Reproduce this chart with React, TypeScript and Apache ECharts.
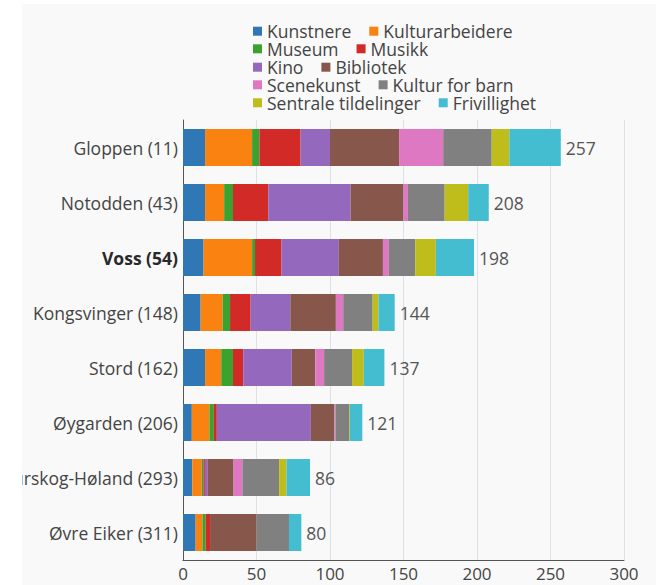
import React, { useEffect, useRef } from "react";
import * as echarts from "echarts";

const categories = [
  "Gloppen (11)",
  "Notodden (43)",
  "Voss (54)",
  "Kongsvinger (148)",
  "Stord (162)",
  "Øygarden (206)",
  "Aurskog-Høland (293)",
  "Øvre Eiker (311)",
];

const seriesNames = [
  "Kunstnere",
  "Kulturarbeidere",
  "Museum",
  "Musikk",
  "Kino",
  "Bibliotek",
  "Scenekunst",
  "Kultur for barn",
  "Sentrale tildelinger",
  "Frivillighet",
];

const kunstnere = [15, 15, 14, 12, 15, 6, 6.3, 8.6];
const kulturarbeidere = [32, 13, 33, 15, 11, 12, 6.4, 4.6];
const museum = [5, 6, 2, 5, 8, 3, 1.2, 2.2];
const musikk = [28, 24, 18, 14, 7, 2, 1, 3];
const kino = [20, 56, 39, 27, 33, 64, 2, 0];
const bibliotek = [47, 36, 30, 31, 16, 16, 17.5, 31.7];
const scenekunst = [30, 3, 4, 5, 6, 0.7, 6, 0];
const kulturForBarn = [33, 25, 18, 20, 19, 9.3, 25, 22];
const sentraleTildelinger = [12, 16, 14, 4, 8, 0.5, 5, 0];
const frivillighet = [35, 14, 26, 11, 14, 8.5, 16, 8.4];

const totals = [257, 208, 198, 144, 137, 121, 86, 80];

const colors = [
  "#2f78b5",
  "#f98211",
  "#3ca22f",
  "#d12a27",
  "#9468bd",
  "#87574b",
  "#de78c2",
  "#808080",
  "#bebd1c",
  "#45bdd1",
];

const FONT = "'Open Sans', 'Noto Sans', sans-serif";

export default function App() {
  const ref = useRef<HTMLDivElement>(null);

  useEffect(() => {
    if (!ref.current) return;
    const chart = echarts.init(ref.current, undefined, { renderer: "svg" });
    const values = [
      kunstnere,
      kulturarbeidere,
      museum,
      musikk,
      kino,
      bibliotek,
      scenekunst,
      kulturForBarn,
      sentraleTildelinger,
      frivillighet,
    ];
    const legendRows = [26.7, 44.3, 62.7, 80.3, 98.3];
    const legends = legendRows.map((cy, i) => ({
      data: [seriesNames[i * 2], seriesNames[i * 2 + 1]],
      left: 231,
      top: cy - 8.5,
      orient: "horizontal",
      padding: 0,
      itemGap: 18,
      itemWidth: 9,
      itemHeight: 9,
      icon: "rect",
      textStyle: { fontFamily: FONT, fontSize: 17.5, lineHeight: 17, color: "#444" },
    }));

    const series = values.map((vals, i) => ({
      name: seriesNames[i],
      type: "bar",
      stack: "total",
      data: vals,
      barWidth: 37,
      itemStyle: { color: colors[i] },
      label:
        i === values.length - 1
          ? {
              show: true,
              position: "right",
              distance: 5,
              formatter: (p: any) => String(totals[p.dataIndex]),
              fontFamily: FONT,
              fontSize: 17.5,
              color: "#555",
            }
          : { show: false },
      emphasis: { disabled: true },
    }));

    chart.setOption({
      animation: false,
      color: colors,
      legend: legends,
      grid: {
        left: 161,
        right: 32,
        top: 116,
        bottom: 25,
        containLabel: false,
        outerBoundsMode: "none",
      },
      xAxis: {
        type: "value",
        min: 0,
        max: 300,
        interval: 50,
        axisLine: { show: true, lineStyle: { color: "#555", width: 1 } },
        axisTick: { show: false },
        splitLine: { show: true, lineStyle: { color: "#dde2e8", width: 1 } },
        axisLabel: { fontFamily: FONT, fontSize: 17, color: "#444", margin: 5 },
      },
      yAxis: {
        type: "category",
        data: categories,
        inverse: true,
        axisLine: { show: true, lineStyle: { color: "#555", width: 1 } },
        axisTick: { show: false },
        axisLabel: {
          margin: 5,
          fontFamily: FONT,
          fontSize: 17.5,
          color: "#444",
          formatter: (v: string) => (v.startsWith("Voss") ? `{b|${v}}` : v),
          rich: {
            b: { fontFamily: FONT, fontSize: 17.5, fontWeight: "bold", color: "#2a2a2a" },
          },
        },
      },
      series,
    });
    return () => chart.dispose();
  }, []);

  return (
    <div
      style={{
        position: "fixed",
        left: 0,
        top: 0,
        width: 665,
        height: 585,
        background: "#ffffff",
      }}
    >
      <div
        style={{
          position: "absolute",
          left: 22,
          top: 4,
          width: 634,
          height: 581,
          background: "#f9f9f9",
          overflow: "hidden",
        }}
      >
        <div ref={ref} style={{ width: 634, height: 581 }} />
      </div>
    </div>
  );
}
